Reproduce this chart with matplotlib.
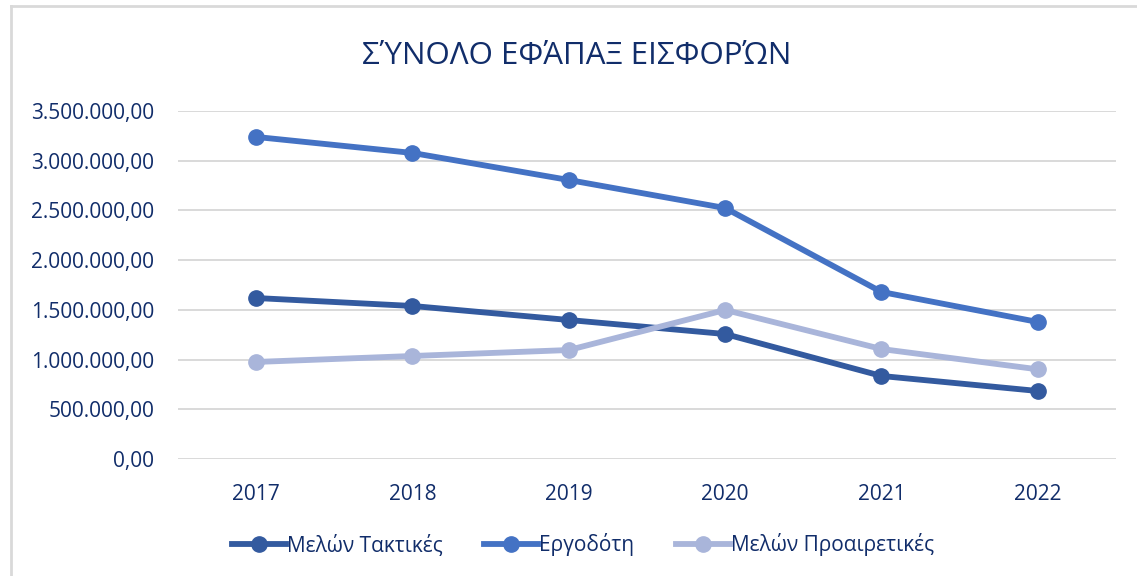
import matplotlib
matplotlib.use("Agg")
import matplotlib.pyplot as plt
from matplotlib.lines import Line2D
from matplotlib.ticker import FuncFormatter

plt.rcParams['font.family'] = ['Open Sans', 'DejaVu Sans']

years = ["2017", "2018", "2019", "2020", "2021", "2022"]
taktikes = [1619000, 1539000, 1398000, 1257000, 835000, 684000]
ergodoti = [3239000, 3078000, 2806000, 2524000, 1680000, 1378000]
proairetikes = [976000, 1036000, 1096000, 1499000, 1106000, 902000]

series_names = ["Μελών Τακτικές", "Εργοδότη", "Μελών Προαιρετικές"]
colors = ["#335A9F", "#4472C4", "#A9B5DA"]
title = "ΣΎΝΟΛΟ ΕΦΆΠΑΞ ΕΙΣΦΟΡΏΝ"
yticks = [0, 500000, 1000000, 1500000, 2000000, 2500000, 3000000, 3500000]

text_color = "#112D6A"

W, H = 1137, 576
fig = plt.figure(figsize=(W / 100, H / 100), dpi=100)
ax = fig.add_axes([178 / W, 1 - 459 / H, (1116 - 178) / W, (459 - 111) / H])

x = list(range(len(years)))
for vals, c, name in zip([taktikes, ergodoti, proairetikes], colors, series_names):
    ax.plot(x, vals, color=c, lw=4.2, marker="o", ms=11, solid_capstyle="round",
            label=name, zorder=3)

ax.set_xlim(-0.5, len(years) - 0.5)
ax.set_ylim(0, 3500000)
ax.set_yticks(yticks)

def fmt(v, pos):
    s = f"{int(round(v)):,}".replace(",", ".")
    return s + ",00"

ax.yaxis.set_major_formatter(FuncFormatter(fmt))
ax.set_xticks(x)
ax.set_xticklabels(years)
ax.grid(axis="y", color="#D9D9D9", lw=1.4, zorder=0)
ax.grid(axis="x", visible=False)
for s in ax.spines.values():
    s.set_visible(False)
ax.tick_params(axis="both", length=0, colors=text_color, labelsize=15)
ax.tick_params(axis="y", pad=17)
ax.tick_params(axis="x", pad=18)

fig.text(577 / W, 1 - 56 / H, title, ha="center", va="center", fontsize=22.5,
         color=text_color)

handles = [Line2D([0], [0], color=c, lw=4.2, marker="o", ms=11) for c in colors]
fig.legend(handles, series_names, loc="center", bbox_to_anchor=(583 / W, 1 - 545 / H),
           ncol=3, frameon=False, fontsize=15, labelcolor=text_color,
           handlelength=2.6, columnspacing=2.0, handletextpad=0.05)

# chart border (left and top)
fig.add_artist(Line2D([10.5 / W, 10.5 / W], [0, 1 - 6 / H], color="#D9D9D9", lw=2,
                      transform=fig.transFigure))
fig.add_artist(Line2D([10.5 / W, 1], [1 - 6 / H, 1 - 6 / H], color="#D9D9D9", lw=2,
                      transform=fig.transFigure))

fig.savefig("out.png", dpi=100, facecolor="white")
